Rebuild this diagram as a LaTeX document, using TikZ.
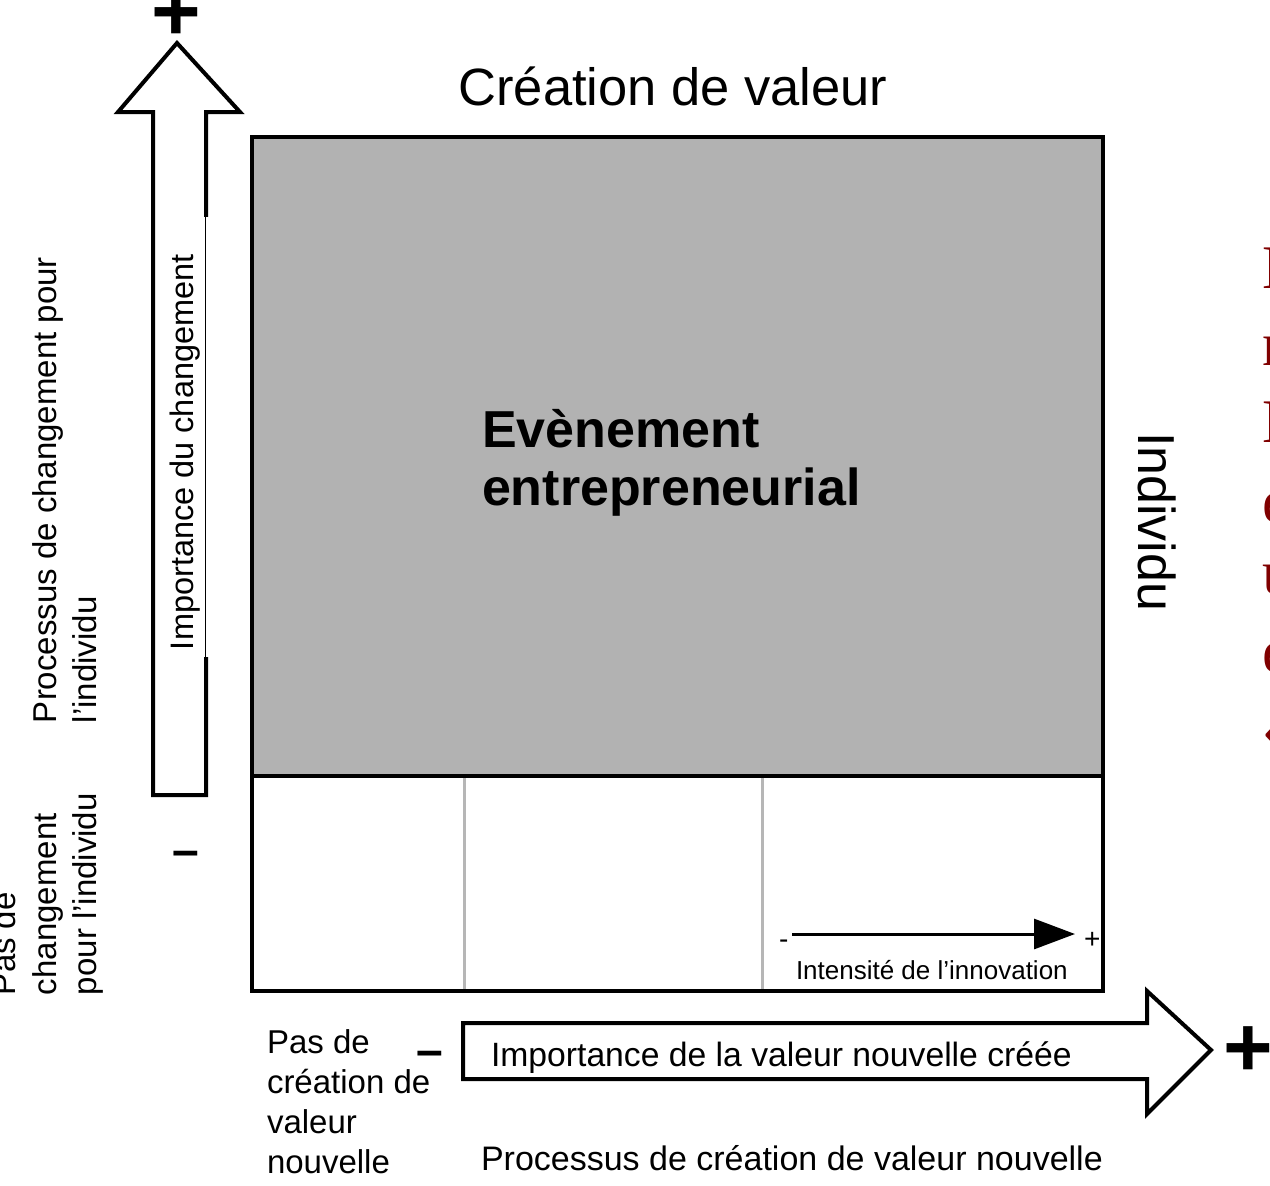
\documentclass[tikz,border=0pt]{standalone}
\usepackage{fontspec}
\setmainfont{Liberation Sans}
\newfontfamily\redserif{Liberation Serif}
\usetikzlibrary{arrows.meta}
\definecolor{boxgray}{RGB}{178,178,178}
\definecolor{divgray}{RGB}{182,182,182}
\definecolor{darkred}{RGB}{128,0,0}
\newcommand\fsz[2]{\fontsize{#1}{#2}\selectfont}
\tikzset{
  every node/.style={inner sep=0pt, outer sep=0pt},
  lbl/.style={font=\fsz{33}{40}, anchor=base west},
  vlbl/.style={font=\fsz{33}{40}, anchor=base west, rotate=90},
  bigsign/.style={font=\bfseries\fsz{85}{85}, anchor=base},
  bigdash/.style={font=\bfseries\fsz{48}{48}, anchor=base},
  redletter/.style={font=\redserif\fsz{62}{77}, text=darkred, anchor=base west},
  fatarrow/.style={draw, line width=4pt, fill=white, line join=miter},
}
\begin{document}
\begin{tikzpicture}[x=1pt,y=-1pt]
\useasboundingbox (0,0) rectangle (1270,1186);
\clip (0,0) rectangle (1270,1186);

% main box
\fill[boxgray] (252,137) rectangle (1103,776);
\draw[divgray, line width=3pt] (464,778) -- (464,989);
\draw[divgray, line width=3pt] (762,778) -- (762,989);
\draw[line width=4pt] (252,137) rectangle (1103,991);
\draw[line width=4pt] (252,776) -- (1103,776);

% title
\node[font=\fsz{52.5}{60}, anchor=base] (title) at (673,105) {Création de valeur};

% event text
\node[font=\bfseries\fsz{52}{58}, anchor=base west] (ev1) at (482,447) {Evènement};
\node[font=\bfseries\fsz{52}{58}, anchor=base west] (ev2) at (482,505) {entrepreneurial};

% right label
\node[font=\fsz{52}{60}, anchor=base west, rotate=-90] (indiv) at (1138,432) {Individu};

% red cut-off letters
\node[redletter] (r1) at (1262,288) {L};
\node[redletter] (r2) at (1262,365) {n};
\node[redletter] (r3) at (1262,442) {L};
\node[redletter] (r4) at (1262,522) {e};
\node[redletter] (r5) at (1262,593) {u};
\node[redletter] (r6) at (1262,672) {e};
\node[redletter] (r7) at (1262,749) {«};

% vertical fat arrow
\path[fatarrow] (153,795) -- (153,112) -- (118,112) -- (177,43) -- (240,112) -- (206,112) -- (206,795) -- cycle;
\fill[white] (203,217) rectangle (209,657);
\draw[line width=1pt] (205.5,217) -- (205.5,657);
\node[font=\fsz{32.5}{40}, anchor=base west, rotate=90] (impch) at (193,650) {Importance du changement};
\node[bigsign] (vplus) at (176,40) {+};
\node[bigdash] (vminus) at (186,866) {–};

% left rotated labels
\node[vlbl] (proc1) at (56,723) {Processus de changement pour};
\node[vlbl] (proc2) at (96,723) {l’individu};
\node[vlbl] (pas1) at (16,995) {Pas de};
\node[vlbl] (pas2) at (56,995) {changement};
\node[vlbl] (pas3) at (96,995) {pour l’individu};

% horizontal fat arrow
\path[fatarrow] (463,1023) -- (1147,1023) -- (1147,991) -- (1211,1050) -- (1147,1114) -- (1147,1079) -- (463,1079) -- cycle;
\node[font=\fsz{33.7}{40}, anchor=base west] (impval) at (491,1066) {Importance de la valeur nouvelle créée};
\node[bigsign] (hplus) at (1248,1076) {+};
\node[bigdash] (hminus) at (430,1066) {–};

% bottom-left label
\node[lbl] (pc1) at (267,1053) {Pas de};
\node[lbl] (pc2) at (267,1093) {création de};
\node[lbl] (pc3) at (267,1133) {valeur};
\node[lbl] (pc4) at (267,1173) {nouvelle};

% bottom label
\node[font=\fsz{34}{40}, anchor=base west] (procval) at (481,1170) {Processus de création de valeur nouvelle};

% innovation intensity
\node[font=\fsz{28}{30}, anchor=base west] (iminus) at (779,948) {-};
\node[font=\fsz{28}{30}, anchor=base west] (iplus) at (1084,948) {+};
\coordinate (ia) at (792,934);
\coordinate (ib) at (1075,934);
\draw[line width=3pt, -{Triangle[length=41pt,width=30pt]}] (ia) -- (ib);
\node[font=\fsz{26}{30}, anchor=base west] (intens) at (796,979) {Intensité de l’innovation};
\end{tikzpicture}
\end{document}
